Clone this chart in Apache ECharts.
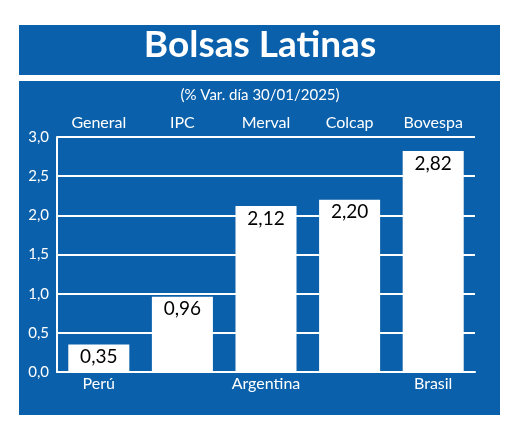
<!DOCTYPE html>
<html><head><meta charset="utf-8">
<script src="https://cdn.jsdelivr.net/npm/echarts@6/dist/echarts.min.js"></script>
<style>html,body{margin:0;padding:0;background:#fff}#c{width:520px;height:434px}</style>
</head><body><div id="c"></div>
<script>
const countries = ['Perú','México','Argentina','Colombia','Brasil'];
const indices = ['General','IPC','Merval','Colcap','Bovespa'];
const values = [0.35,0.96,2.12,2.20,2.82];
const yTicks = ['0,0','0,5','1,0','1,5','2,0','2,5','3,0'];
const BLUE = '#0a60aa';
const chart = echarts.init(document.getElementById('c'));
const fmt = v => v.toFixed(2).replace('.', ',');
chart.setOption({
  animation:false,
  backgroundColor:'#fff',
  graphic:[
    {type:'rect',z:-10,shape:{x:19,y:25,width:481,height:50},style:{fill:BLUE}},
    {type:'rect',z:-10,shape:{x:19,y:81,width:481,height:334},style:{fill:BLUE}},
    {type:'text',left:'center',top:27,style:{text:'Bolsas Latinas',fill:'#fff',font:'bold 37px Lato'}},
    {type:'text',left:'center',top:88,style:{text:'(% Var. día 30/01/2025)',fill:'#fff',font:'15px Lato'}}
  ],
  grid:{left:57,right:45,top:137,bottom:62},
  xAxis:[
    {type:'category',data:countries,position:'bottom',
     axisLine:{lineStyle:{color:'#fff',width:2}},
     axisTick:{inside:true,length:8,lineStyle:{color:'#fff',width:2}},
     axisLabel:{color:'#fff',fontFamily:'Lato',fontSize:16,margin:4}},
    {type:'category',data:indices,position:'top',
     axisLine:{show:false},axisTick:{show:false},
     axisLabel:{color:'#fff',fontFamily:'Lato',fontSize:16,margin:6}}
  ],
  yAxis:{type:'value',min:0,max:3,interval:0.5,
    axisLine:{show:true,lineStyle:{color:'#fff',width:2}},
    axisTick:{show:false},
    splitLine:{lineStyle:{color:'#fff',width:2}},
    axisLabel:{color:'#fff',fontFamily:'Lato',fontSize:15,margin:8,
      formatter:v=>yTicks[Math.round(v*2)]}},
  series:[{type:'bar',data:values,barWidth:'73%',itemStyle:{color:'#fff'},z:3,
    label:{show:true,position:'insideTop',color:'#000',fontFamily:'Lato',fontSize:19,offset:[0,-2],
      formatter:p=>fmt(p.value)}}]
});
</script></body></html>
